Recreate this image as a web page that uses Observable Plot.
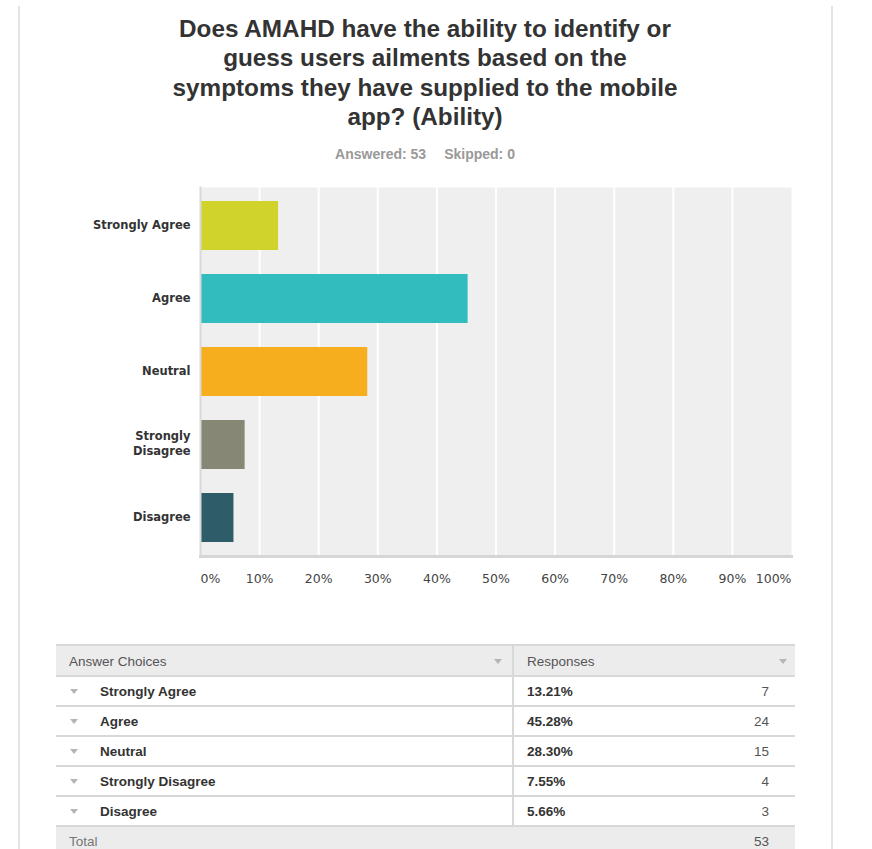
<!DOCTYPE html>
<html>
<head>
<meta charset="utf-8">
<script src="https://cdn.jsdelivr.net/npm/d3@7"></script>
<script src="https://cdn.jsdelivr.net/npm/@observablehq/plot@0.6"></script>
<style>
  html, body { margin: 0; padding: 0; background: #fff; }
  #page { position: relative; width: 872px; height: 849px; overflow: hidden; font-family: "Liberation Sans", Arial, sans-serif; }
  .vline { position: absolute; top: 6px; bottom: 0; width: 2px; background: #e4e4e4; }
  #title { position: absolute; left: 0; width: 850px; top: 14px; text-align: center; font-weight: bold; font-size: 24.3px; line-height: 29.3px; color: #333; }
  #subtitle { position: absolute; left: 0; width: 850px; top: 146px; text-align: center; font-weight: bold; font-size: 14px; line-height: 16px; color: #999; }
  #subtitle span + span { margin-left: 18px; }
  #chart { position: absolute; left: 0; top: 180px; }
  #tbl { position: absolute; left: 56px; top: 644px; width: 739px; border-collapse: collapse; font-size: 13.5px; }
  #tbl td { height: 28px; padding: 0; border-top: 2px solid #d8d8d8; vertical-align: middle; position: relative; }
  #tbl tr.head td { background: #ececec; color: #555; height: 29px; }
  #tbl tr.total td { background: #ececec; color: #777; }
  #tbl td.c1 { width: 456px; border-right: 2px solid #d8d8d8; }
  #tbl tr.total td.c1 { border-right: none; }
  .tri { position: absolute; top: 50%; margin-top: -2px; width: 0; height: 0; border-left: 4.5px solid transparent; border-right: 4.5px solid transparent; border-top: 5px solid #b5b5b5; }
  .lab { position: absolute; left: 44px; top: 50%; transform: translateY(-50%); font-weight: bold; color: #333; }
  .hl { position: absolute; left: 13px; top: 50%; transform: translateY(-50%); }
  .pct { position: absolute; left: 13px; top: 50%; transform: translateY(-50%); font-weight: bold; color: #333; }
  .cnt { position: absolute; right: 26px; top: 50%; transform: translateY(-50%); color: #555; }
</style>
</head>
<body>
<div id="page">
  <div class="vline" style="left:18px"></div>
  <div class="vline" style="left:831px"></div>
  <div id="title"></div>
  <div id="subtitle"></div>
  <div id="chart"></div>
  <table id="tbl"></table>
</div>
<script>
const titleLines = ["Does AMAHD have the ability to identify or", "guess users ailments based on the", "symptoms they have supplied to the mobile", "app? (Ability)"];
const answered = 53;
const skipped = 0;
const categories = ["Strongly Agree", "Agree", "Neutral", "Strongly Disagree", "Disagree"];
const yTickLabels = ["Strongly Agree", "Agree", "Neutral", "Strongly\nDisagree", "Disagree"];
const percents = [13.21, 45.28, 28.30, 7.55, 5.66];
const counts = [7, 24, 15, 4, 3];
const total = 53;
const colors = ["#cfd32b", "#33bcbd", "#f6ae1e", "#878775", "#2e5d69"];
const xTicks = [0, 10, 20, 30, 40, 50, 60, 70, 80, 90, 100];

document.getElementById("title").innerHTML = titleLines.join("<br>");
document.getElementById("subtitle").innerHTML = `<span>Answered: ${answered}</span><span>Skipped: ${skipped}</span>`;

const data = categories.map((c, i) => ({cat: c, pct: percents[i], n: counts[i]}));
const fmt = d => d + "%";
const tickStyle = {tickSize: 0, tickPadding: 18, tickFormat: fmt, fontSize: 12.5, fill: "#444", fontFamily: "DejaVu Sans", label: null};

const chart = Plot.plot({
  width: 872,
  height: 416,
  marginLeft: 200,
  marginRight: 81,
  marginTop: 7,
  marginBottom: 40,
  x: {domain: [0, 100], label: null},
  y: {domain: categories, paddingInner: 0.33, paddingOuter: 0.165, label: null},
  color: {domain: categories, range: colors},
  style: {background: "transparent", fontFamily: "DejaVu Sans"},
  marks: [
    Plot.frame({fill: "#efefef", stroke: null}),
    Plot.gridX(xTicks.slice(1, -1), {stroke: "#fff", strokeOpacity: 1, strokeWidth: 2}),
    Plot.barX(data, {x: "pct", y: "cat", fill: "cat"}),
    Plot.frame({anchor: "left", stroke: "#d9d9d9", strokeWidth: 2}),
    Plot.frame({anchor: "bottom", stroke: "#d6d6d6", strokeWidth: 3}),
    Plot.axisX(xTicks.slice(0, 1), {...tickStyle, textAnchor: "start"}),
    Plot.axisX(xTicks.slice(1, -1), {...tickStyle}),
    Plot.axisX(xTicks.slice(-1), {...tickStyle, textAnchor: "end"}),
    Plot.axisY({tickSize: 0, tickPadding: 10, dy: -2, label: null, tickFormat: d => yTickLabels[categories.indexOf(d)], fontWeight: "bold", fontSize: 11.5, fill: "#333", lineHeight: 1.25, fontFamily: "DejaVu Sans"})
  ]
});
document.getElementById("chart").appendChild(chart);

const tbl = document.getElementById("tbl");
let html = `<tr class="head"><td class="c1"><span class="hl">Answer Choices</span><span class="tri" style="right:10px"></span></td><td><span class="hl">Responses</span><span class="tri" style="right:8px"></span></td></tr>`;
categories.forEach((c, i) => {
  html += `<tr><td class="c1"><span class="tri" style="left:14px"></span><span class="lab">${c}</span></td><td><span class="pct">${percents[i].toFixed(2)}%</span><span class="cnt">${counts[i]}</span></td></tr>`;
});
html += `<tr class="total"><td class="c1"><span class="hl">Total</span></td><td><span class="cnt">${total}</span></td></tr>`;
tbl.innerHTML = html;
</script>
</body>
</html>
